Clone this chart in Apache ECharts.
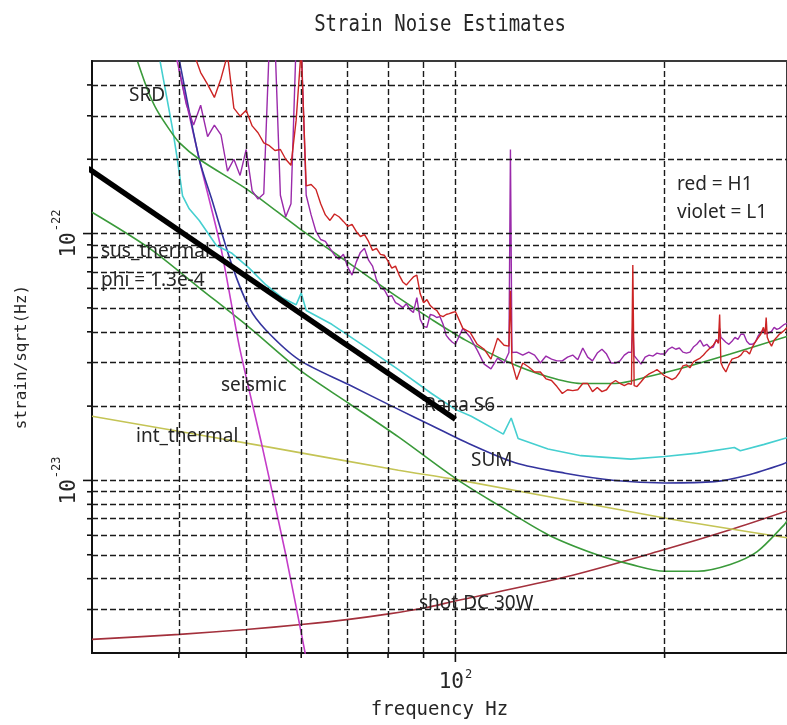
<!DOCTYPE html>
<html>
<head>
<meta charset="utf-8">
<script src="https://cdn.jsdelivr.net/npm/echarts@6.0.0/dist/echarts.min.js"></script>
<style>
  html, body { margin: 0; padding: 0; background: #ffffff; }
  #chart { width: 787px; height: 725px; }
</style>
</head>
<body>
<div id="chart"></div>
<script>
// Strain noise budget: measured H1/L1 spectra against modelled noise terms.

// Common frequency bins (Hz) of the measured H1 and L1 spectra
const freqHz = [
  40, 41, 42, 43, 44, 45, 46, 47, 48, 49,
  50, 51, 52, 53, 54, 55, 56, 57, 58, 59,
  60, 61, 62, 63, 64, 65, 66, 67, 68, 69,
  70, 71, 72, 73, 74, 75, 76, 77, 78, 79,
  80, 81, 82, 83, 84, 85, 86, 87, 88, 89,
  90, 91, 92, 93, 94, 95, 96, 97, 98, 99,
  100, 102.5, 105, 107.5, 110, 112.5, 115, 117.5,
  119.4, 120, 120.6, 122.5, 125, 127.5, 130, 132.5, 135, 137.5,
  140, 142.5, 145, 147.5, 150, 152.5, 155, 157.5,
  160, 162.5, 165, 167.5, 170, 172.5, 175, 177.5,
  179.2, 180, 180.8, 182.5, 185, 187.5, 190, 192.5, 195, 197.5,
  200, 202.5, 205, 207.5, 210, 212.5, 215, 217.5,
  220, 222.5, 225, 227.5, 230, 232.5, 235, 237.5,
  239, 240, 241, 242.5, 245, 247.5, 250, 252.5, 255, 257.5,
  260, 262.5, 265, 267.5, 270, 272.5, 275, 277.5,
  279, 280, 281, 282.5, 285, 287.5, 290, 292.5, 295, 297.5, 300
];

// H1 strain spectrum (red)
const h1Strain = [
  null, null, 5.4e-22, 4.49e-22, 4.02e-22, 3.56e-22, 4.25e-22, 5.3e-22, 3.22e-22, 2.99e-22,
  3.16e-22, 2.73e-22, 2.56e-22, 2.33e-22, 2.27e-22, 2.17e-22, 2.19e-22, 2.00e-22, 1.89e-22, 2.88e-22,
  5.6e-22, 1.56e-22, 1.58e-22, 1.51e-22, 1.32e-22, 1.19e-22, 1.13e-22, 1.20e-22, 1.17e-22, 1.12e-22,
  1.07e-22, 1.09e-22, 1.02e-22, 9.73e-23, 9.91e-23, 9.29e-23, 8.55e-23, 8.71e-23, 8.24e-23, 8.17e-23,
  7.73e-23, 7.24e-23, 7.38e-23, 6.79e-23, 6.37e-23, 6.19e-23, 6.43e-23, 6.67e-23, 6.79e-23, 5.70e-23,
  5.25e-23, 5.40e-23, 5.11e-23, 4.97e-23, 4.88e-23, 4.66e-23, 4.61e-23, 4.70e-23, 4.74e-23, 4.79e-23,
  4.83e-23, 4.13e-23, 3.98e-23, 3.56e-23, 3.40e-23, 3.10e-23, 3.77e-23, 3.53e-23,
  3.5e-23, 5.86e-23, 3.0e-23, 2.56e-23, 2.99e-23, 2.88e-23, 2.75e-23, 2.75e-23, 2.58e-23, 2.54e-23,
  2.40e-23, 2.25e-23, 2.33e-23, 2.31e-23, 2.33e-23, 2.47e-23, 2.47e-23, 2.29e-23,
  2.38e-23, 2.29e-23, 2.33e-23, 2.47e-23, 2.54e-23, 2.47e-23, 2.42e-23, 2.47e-23,
  2.45e-23, 7.45e-23, 2.42e-23, 2.40e-23, 2.51e-23, 2.63e-23, 2.70e-23, 2.75e-23, 2.81e-23, 2.73e-23,
  2.65e-23, 2.61e-23, 2.56e-23, 2.61e-23, 2.73e-23, 2.91e-23, 2.94e-23, 2.86e-23,
  3.02e-23, 3.08e-23, 3.13e-23, 3.22e-23, 3.34e-23, 3.44e-23, 3.53e-23, 3.70e-23,
  3.6e-23, 4.70e-23, 3.0e-23, 2.88e-23, 2.75e-23, 2.94e-23, 3.10e-23, 3.13e-23, 3.16e-23, 3.22e-23,
  3.34e-23, 3.34e-23, 3.25e-23, 3.47e-23, 3.63e-23, 3.77e-23, 3.91e-23, 4.17e-23,
  3.9e-23, 4.57e-23, 3.8e-23, 3.66e-23, 3.50e-23, 3.70e-23, 3.80e-23, 3.91e-23, 3.98e-23, 4.06e-23, 4.17e-23
];

// L1 strain spectrum (violet)
const l1Strain = [
  4.66e-22, 3.34e-22, 2.75e-22, 3.31e-22, 2.47e-22, 2.75e-22, 2.51e-22, 1.79e-22, 2.00e-22, 1.72e-22,
  2.19e-22, 1.49e-22, 1.38e-22, 1.45e-22, 6.0e-22, 6.0e-22, 1.43e-22, 1.17e-22, 1.32e-22, 6.0e-22,
  6.0e-22, 1.43e-22, 1.19e-22, 1.02e-22, 9.46e-23, 9.29e-23, 8.71e-23, 8.17e-23, 7.87e-23, 8.24e-23,
  7.31e-23, 6.79e-23, 7.66e-23, 8.39e-23, 8.71e-23, 7.80e-23, 7.38e-23, 6.49e-23, 6.03e-23, 5.92e-23,
  5.55e-23, 5.60e-23, 5.25e-23, 5.15e-23, 5.01e-23, 5.20e-23, 4.92e-23, 4.79e-23, 5.50e-23, 4.49e-23,
  4.21e-23, 4.17e-23, 4.70e-23, 4.66e-23, 4.57e-23, 4.61e-23, 4.29e-23, 3.87e-23, 3.73e-23, 3.63e-23,
  3.56e-23, 4.13e-23, 3.80e-23, 3.37e-23, 2.96e-23, 2.83e-23, 3.13e-23, 2.99e-23,
  3.3e-23, 2.19e-22, 3.3e-23, 3.31e-23, 3.22e-23, 3.31e-23, 3.22e-23, 2.99e-23, 3.19e-23, 3.10e-23,
  3.05e-23, 3.05e-23, 3.16e-23, 3.22e-23, 3.08e-23, 3.44e-23, 3.16e-23, 3.05e-23,
  3.28e-23, 3.40e-23, 3.25e-23, 2.99e-23, 2.99e-23, 3.05e-23, 3.22e-23, 3.31e-23,
  3.3e-23, 4.29e-23, 3.2e-23, 3.10e-23, 2.96e-23, 3.16e-23, 3.22e-23, 3.19e-23, 3.28e-23, 3.25e-23,
  3.25e-23, 3.40e-23, 3.47e-23, 3.40e-23, 3.44e-23, 3.31e-23, 3.28e-23, 3.31e-23,
  3.47e-23, 3.56e-23, 3.70e-23, 3.50e-23, 3.56e-23, 3.44e-23, 3.47e-23, 3.73e-23,
  3.6e-23, 4.13e-23, 3.8e-23, 3.87e-23, 3.63e-23, 3.56e-23, 3.66e-23, 3.80e-23, 3.73e-23, 3.91e-23,
  3.91e-23, 3.66e-23, 3.56e-23, 3.56e-23, 3.63e-23, 3.84e-23, 3.98e-23, 4.06e-23,
  3.95e-23, 3.91e-23, 3.93e-23, 3.94e-23, 4.02e-23, 4.17e-23, 4.09e-23, 4.13e-23, 4.21e-23, 4.29e-23, 4.33e-23
];

// SRD design curve
const srdHz = [34.9, 36.1, 37.2, 38.8, 40.1, 42.8, 50.5, 59.6, 70.3, 82.8, 92.4, 103.4, 119.1, 135.9, 151.6, 169.6, 189.1, 210.9, 248.6, 300];
const srdStrain = [4.97e-22, 3.80e-22, 3.16e-22, 2.63e-22, 2.33e-22, 2.00e-22, 1.49e-22, 1.05e-22, 7.59e-23, 5.50e-23, 4.49e-23, 3.70e-23, 3.02e-23, 2.63e-23, 2.47e-23, 2.47e-23, 2.63e-23, 2.84e-23, 3.25e-23, 3.83e-23];

// Suspension thermal noise, phi = 1.3e-4
const susHz = [30, 36.3, 42.8, 50.5, 59.6, 70.3, 82.8, 100, 115.3, 135.9, 159.6, 178.8, 200, 223.0, 248.6, 271.8, 297.2, 300];
const susStrain = [1.22e-22, 8.71e-23, 6.03e-23, 4.17e-23, 2.81e-23, 2.05e-23, 1.50e-23, 1.02e-23, 7.94e-24, 6.03e-24, 5.01e-24, 4.57e-24, 4.29e-24, 4.29e-24, 4.57e-24, 5.15e-24, 6.61e-24, 6.86e-24];

// Seismic noise
const seismicHz = [39.4, 39.8, 42.8, 46.0, 48.9, 52.7, 57.0, 61.0];
const seismicStrain = [5.8e-22, 4.97e-22, 2.00e-22, 8.71e-23, 3.47e-23, 1.38e-23, 5.01e-24, 1.9e-24];

// Sum of the modelled terms
const sumHz = [39.7, 40.1, 42.8, 44.6, 47.7, 50.5, 53.4, 59.6, 70.3, 82.8, 92.4, 103.4, 121.9, 143.8, 169.6, 200, 235.9, 263.0, 297.2, 300];
const sumStrain = [5.8e-22, 4.97e-22, 2.00e-22, 1.38e-22, 7.45e-23, 5.01e-23, 4.06e-23, 3.08e-23, 2.44e-23, 1.94e-23, 1.67e-23, 1.43e-23, 1.18e-23, 1.07e-23, 1.00e-23, 9.77e-24, 9.89e-24, 1.05e-23, 1.17e-23, 1.19e-23];

// Cyan estimate
const cyanHz = [37.6, 39.2, 39.8, 40.5, 41.4, 42.8, 45.3, 47.7, 50.5, 53.4, 56.3, 59.0, 60.0, 61.0, 66.4, 74.3, 82.8, 92.4, 100, 105.4, 117.2, 120.3, 123.1, 135.9, 151.6, 178.8, 200, 223.0, 252.0, 257.0, 278.2, 300];
const cyanStrain = [4.97e-22, 2.63e-22, 2.00e-22, 1.42e-22, 1.26e-22, 1.13e-22, 8.95e-23, 8.32e-23, 7.24e-23, 6.19e-23, 5.50e-23, 5.15e-23, 5.75e-23, 4.88e-23, 4.29e-23, 3.47e-23, 2.81e-23, 2.25e-23, 1.94e-23, 1.82e-23, 1.54e-23, 1.79e-23, 1.48e-23, 1.34e-23, 1.26e-23, 1.22e-23, 1.25e-23, 1.29e-23, 1.36e-23, 1.32e-23, 1.40e-23, 1.49e-23];

// Internal thermal noise
const intHz = [30, 52.7, 82.8, 100, 200, 300];
const intStrain = [1.82e-23, 1.38e-23, 1.10e-23, 1.01e-23, 7.05e-24, 5.86e-24];

// Shot noise, DC readout at 30 W
const shotHz = [30, 40.1, 50, 60, 69.8, 80.2, 90.6, 100, 143.8, 200, 248.6, 300];
const shotStrain = [2.27e-24, 2.38e-24, 2.49e-24, 2.61e-24, 2.73e-24, 2.88e-24, 3.05e-24, 3.25e-24, 4.06e-24, 5.25e-24, 6.31e-24, 7.52e-24];

// Rana S6 projection (straight line in log-log)
const ranaHz = [29.6, 100];
const ranaStrain = [1.84e-22, 1.77e-23];

// Axis ranges
const xRange = [30, 300];
const yRange = [2e-24, 5e-22];

// Dashed grid positions
const xGridHz = [40, 50, 60, 70, 80, 90, 100, 200];
const yGridStrain = [
  3e-24, 4e-24, 5e-24, 6e-24, 7e-24, 8e-24, 9e-24,
  1e-23, 2e-23, 3e-23, 4e-23, 5e-23, 6e-23, 7e-23, 8e-23, 9e-23,
  1e-22, 2e-22, 3e-22, 4e-22
];

const monoFont = '"DejaVu Sans Mono", monospace';
const noteFont = '"Noto Sans", "Open Sans", sans-serif';
const inkColor = '#262626';

function pairs(xs, ys) {
  return xs.map(function (x, i) { return [x, ys[i]]; });
}

function isDecade(v) {
  const e = Math.log10(v);
  return Math.abs(e - Math.round(e)) < 1e-6;
}

function powerOfTen(v) {
  if (!isDecade(v)) return '';
  return '{b|10}{e|' + Math.round(Math.log10(v)) + '}';
}

function powerRich(raise) {
  return {
    b: { fontFamily: monoFont, fontSize: 21, color: inkColor, verticalAlign: 'bottom' },
    e: { fontFamily: monoFont, fontSize: 12, color: inkColor, verticalAlign: 'bottom', padding: [0, 0, raise, 1] }
  };
}

function curve(name, xs, ys, color, width, extra) {
  return Object.assign({
    name: name,
    type: 'line',
    data: pairs(xs, ys),
    showSymbol: false,
    symbol: 'none',
    silent: true,
    animation: false,
    lineStyle: { color: color, width: width },
    itemStyle: { color: color },
    z: 3
  }, extra || {});
}

function note(text, x, y) {
  return {
    type: 'text', x: x, y: y, z: 50,
    style: { text: text, fontFamily: noteFont, fontSize: 19, fill: inkColor, align: 'left', verticalAlign: 'middle' }
  };
}

// Dashed grid: one segment per grid value, spanning the axis range
const dashedGrid = xGridHz.map(function (v) {
  return [{ coord: [v, yRange[0]] }, { coord: [v, yRange[1]] }];
}).concat(yGridStrain.map(function (v) {
  return [{ coord: [xRange[0], v] }, { coord: [xRange[1], v] }];
}));

// Tick marks: [x, y, side] where side 0 = bottom frame, 1 = left frame
const tickData = xGridHz.map(function (v) { return [v, yRange[0], 0]; })
  .concat(yGridStrain.map(function (v) { return [xRange[0], v, 1]; }));

function renderTick(params, api) {
  const side = api.value(2);
  const v = side === 0 ? api.value(0) : api.value(1);
  const p = api.coord([api.value(0), api.value(1)]);
  const len = isDecade(v) ? 9 : 5;
  const end = side === 0 ? [p[0], p[1] + len] : [p[0] - len, p[1]];
  return {
    type: 'line',
    shape: { x1: p[0], y1: p[1], x2: end[0], y2: end[1] },
    style: { stroke: '#111', lineWidth: 1.6 }
  };
}

const chart = echarts.init(document.getElementById('chart'), null, { renderer: 'canvas' });

chart.setOption({
  animation: false,
  backgroundColor: '#ffffff',
  grid: {
    left: 92, top: 61, right: -3, bottom: 67,
    show: true, borderColor: '#3a3a3a', borderWidth: 2, containLabel: false
  },
  xAxis: {
    type: 'log', logBase: 10, min: xRange[0], max: xRange[1],
    name: 'frequency Hz', nameLocation: 'middle', nameGap: 48,
    nameTextStyle: { fontFamily: monoFont, fontSize: 19, color: inkColor },
    axisLine: { show: true, lineStyle: { color: '#111', width: 2 } },
    axisTick: { show: false },
    axisLabel: { formatter: powerOfTen, rich: powerRich(12), margin: 16, showMinLabel: false, showMaxLabel: false },
    splitLine: { show: false }
  },
  yAxis: {
    type: 'log', logBase: 10, min: yRange[0], max: yRange[1],
    name: 'strain/sqrt(Hz)', nameLocation: 'middle', nameGap: 62, nameRotate: 90,
    nameTextStyle: { fontFamily: monoFont, fontSize: 16, color: inkColor },
    axisLine: { show: true, lineStyle: { color: '#111', width: 2 } },
    axisTick: { show: false },
    axisLabel: { formatter: powerOfTen, rich: powerRich(17), rotate: 90, margin: 12, showMinLabel: false, showMaxLabel: false },
    splitLine: { show: false }
  },
  graphic: [
    {
      type: 'text', x: 440, y: 25, z: 50, scaleY: 1.2, originX: 0, originY: 0,
      style: { text: 'Strain Noise Estimates', fontFamily: monoFont, fontSize: 19, fill: inkColor, align: 'center', verticalAlign: 'middle' }
    },
    note('SRD', 129, 96),
    note('sus_thermal', 101, 252),
    note('phi = 1.3e-4', 101, 281),
    note('seismic', 221, 386),
    note('int_thermal', 136, 437),
    note('Rana S6', 424, 406),
    note('SUM', 471, 461),
    note('shot DC 30W', 419, 604),
    note('red = H1', 677, 185),
    note('violet = L1', 677, 213)
  ],
  series: [
    {
      name: 'grid', type: 'line', data: [], silent: true, animation: false, z: 1, clip: false,
      markLine: {
        silent: true, animation: false, symbol: ['none', 'none'],
        label: { show: false },
        lineStyle: { type: [6, 3], color: '#1a1a1a', width: 1.4 },
        emphasis: { disabled: true },
        data: dashedGrid
      }
    },
    {
      name: 'ticks', type: 'custom', coordinateSystem: 'cartesian2d', clip: false,
      silent: true, animation: false, z: 2,
      renderItem: renderTick,
      data: tickData
    },
    curve('shot DC 30W', shotHz, shotStrain, '#a3303c', 1.6, { smooth: 0.3 }),
    curve('int_thermal', intHz, intStrain, '#c4c455', 1.6, { smooth: 0.3 }),
    curve('sus_thermal', susHz, susStrain, '#3a9a3a', 1.6, { smooth: 0.3 }),
    curve('seismic', seismicHz, seismicStrain, '#c43cc8', 1.6, { smooth: 0.2 }),
    curve('SUM', sumHz, sumStrain, '#34349e', 1.6, { smooth: 0.3 }),
    curve('estimate', cyanHz, cyanStrain, '#45cfd0', 1.6),
    curve('SRD', srdHz, srdStrain, '#3a9a3a', 1.6, { smooth: 0.3 }),
    curve('L1', freqHz, l1Strain, '#9a2aaa', 1.4, { z: 4 }),
    curve('H1', freqHz, h1Strain, '#cc2424', 1.4, { z: 5 }),
    curve('Rana S6', ranaHz, ranaStrain, '#000000', 5.5, { z: 60, clip: false, lineStyle: { color: '#000', width: 5.5, cap: 'butt' } })
  ]
});
</script>
</body>
</html>
